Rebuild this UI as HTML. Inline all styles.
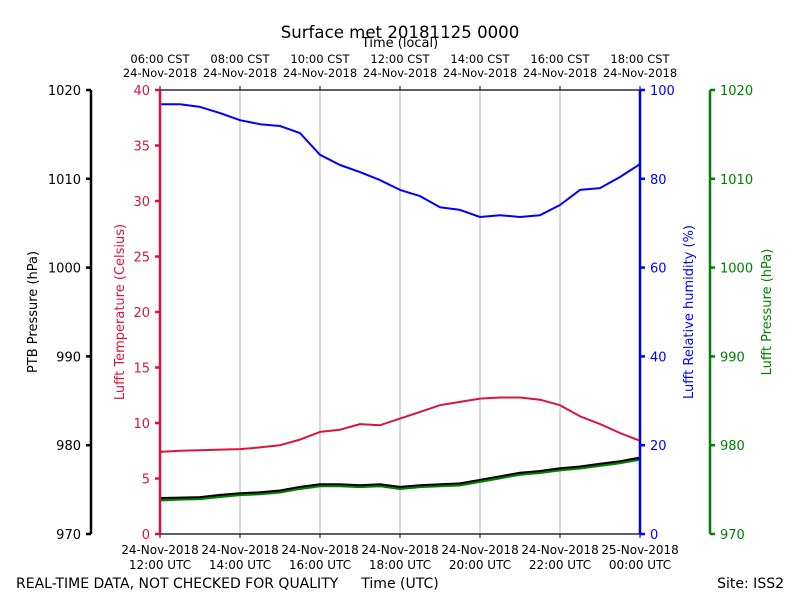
<!DOCTYPE html>
<html><head><meta charset="utf-8"><style>
html,body{margin:0;padding:0;background:#fff;}
svg{display:block;font-family:"DejaVu Sans","Liberation Sans",sans-serif;}
</style></head><body>
<svg id="chart" width="800" height="600" viewBox="0 0 800 600" xmlns="http://www.w3.org/2000/svg">
<rect width="800" height="600" fill="#fff"/>
<text x="400" y="38" font-size="16.6" text-anchor="middle">Surface met 20181125 0000</text>
<text x="400" y="47" font-size="13" text-anchor="middle">Time (local)</text>
<text x="400" y="588" font-size="14" text-anchor="middle">Time (UTC)</text>
<text x="16" y="588" font-size="14">REAL-TIME DATA, NOT CHECKED FOR QUALITY</text>
<text x="784" y="588" font-size="14" text-anchor="end">Site: ISS2</text>
<g id="grid"></g>
<g id="series"></g>
<g id="axes"></g>
</svg>
<script>
const hoursUTC = [0,0.5,1,1.5,2,2.5,3,3.5,4,4.5,5,5.5,6,6.5,7,7.5,8,8.5,9,9.5,10,10.5,11,11.5,12];
const tempC = [7.4,7.5,7.55,7.6,7.65,7.8,8.0,8.5,9.2,9.4,9.9,9.8,10.4,11.0,11.6,11.9,12.2,12.3,12.3,12.1,11.6,10.6,9.9,9.1,8.4];
const rhPct = [96.8,96.8,96.2,94.8,93.2,92.3,91.9,90.3,85.4,83.1,81.5,79.7,77.5,76.1,73.6,73.0,71.4,71.8,71.4,71.8,74.1,77.5,77.9,80.4,83.3];
const ptbHpa = [974.05,974.1,974.15,974.4,974.6,974.7,974.9,975.3,975.6,975.6,975.5,975.6,975.3,975.5,975.6,975.7,976.1,976.5,976.9,977.1,977.4,977.6,977.9,978.2,978.6];
const lufftHpa = [973.8,973.9,973.95,974.2,974.4,974.5,974.7,975.1,975.4,975.4,975.3,975.4,975.1,975.3,975.4,975.5,975.9,976.3,976.7,976.9,977.2,977.4,977.7,978.0,978.4];
const utcTickHours = [0,2,4,6,8,10,12];
const utcTickLabels = [["24-Nov-2018","12:00 UTC"],["24-Nov-2018","14:00 UTC"],["24-Nov-2018","16:00 UTC"],["24-Nov-2018","18:00 UTC"],["24-Nov-2018","20:00 UTC"],["24-Nov-2018","22:00 UTC"],["25-Nov-2018","00:00 UTC"]];
const localTickLabels = [["06:00 CST","24-Nov-2018"],["08:00 CST","24-Nov-2018"],["10:00 CST","24-Nov-2018"],["12:00 CST","24-Nov-2018"],["14:00 CST","24-Nov-2018"],["16:00 CST","24-Nov-2018"],["18:00 CST","24-Nov-2018"]];
const tempTicks = [0,5,10,15,20,25,30,35,40];
const rhTicks = [0,20,40,60,80,100];
const presTicks = [970,980,990,1000,1010,1020];

const L=160,R=640,T=90,B=534;
const NS="http://www.w3.org/2000/svg";
const xS=h=>L+(h-0)/12*(R-L);
const yT=v=>B-v/40*(B-T);
const yRH=v=>B-v/100*(B-T);
const yP=v=>B-(v-970)/50*(B-T);
function mk(tag,at,parent){const e=document.createElementNS(NS,tag);for(const k in at)e.setAttribute(k,at[k]);document.getElementById(parent).appendChild(e);return e;}

utcTickHours.forEach((h,i)=>{
  if(i>0&&i<utcTickHours.length-1){const g=mk('line',{x1:xS(h),x2:xS(h),y1:T,y2:B,stroke:'#b0b0b0','stroke-width':1},'grid');
  
  }
});

function series(vals,sc,color,name,w){
  const p=mk('polyline',{points:vals.map((v,i)=>xS(hoursUTC[i]).toFixed(1)+','+sc(v).toFixed(1)).join(' '),fill:'none',stroke:color,'stroke-width':w,'stroke-linejoin':'round'},'series');
  
  
}
series(rhPct,yRH,'#0000ff','rh-line',2);
series(tempC,yT,'#dc143c','temperature-line',2);
series(lufftHpa,yP,'#008000','lufft-pressure-line',2.5);
series(ptbHpa,yP,'#000000','ptb-pressure-line',2);

const tb=mk('line',{x1:L,x2:R,y1:T,y2:T,stroke:'#000','stroke-width':1.2},'axes');


const bb=mk('line',{x1:L,x2:R,y1:B,y2:B,stroke:'#000','stroke-width':1.2},'axes');



utcTickHours.forEach((h,i)=>{
  const x=xS(h);
  mk('line',{x1:x,x2:x,y1:B,y2:B+4,stroke:'#000'},'axes');
  mk('line',{x1:x,x2:x,y1:T,y2:T-4,stroke:'#000'},'axes');
  const t1=mk('text',{x:x,y:554,'font-size':12,'text-anchor':'middle'},'axes');t1.textContent=utcTickLabels[i][0];
  
  
  const t2=mk('text',{x:x,y:569,'font-size':12,'text-anchor':'middle'},'axes');t2.textContent=utcTickLabels[i][1];
  
  
  const t3=mk('text',{x:x,y:63,'font-size':11.5,'text-anchor':'middle'},'axes');t3.textContent=localTickLabels[i][0];
  
  
  const t4=mk('text',{x:x,y:77,'font-size':11.5,'text-anchor':'middle'},'axes');t4.textContent=localTickLabels[i][1];
  
  
});

function yAxis(x,ticks,sc,color,dir,name,title,tx){
  const a=mk('line',{x1:x,x2:x,y1:T,y2:B,stroke:color,'stroke-width':2.5},'axes');
  
  
  ticks.forEach(v=>{
    const y=sc(v);
    mk('line',{x1:x,x2:x+dir*5,y1:y,y2:y,stroke:color,'stroke-width':2.5},'axes');
    const t=mk('text',{x:x+dir*10,y:y+5,'font-size':13,fill:color,'text-anchor':dir<0?'end':'start'},'axes');t.textContent=v;
    
    
  });
  const tt=mk('text',{x:tx,y:312,'font-size':13,fill:color,'text-anchor':'middle',transform:`rotate(-90 ${tx} 312)`},'axes');tt.textContent=title;
  
  
}
yAxis(91,presTicks,yP,'#000',-1,'ptb-pressure-axis','PTB Pressure (hPa)',37);
yAxis(160,tempTicks,yT,'#dc143c',-1,'temperature-axis','Lufft Temperature (Celsius)',124);
yAxis(640,rhTicks,yRH,'#0000ff',1,'rh-axis','Lufft Relative humidity (%)',693);
yAxis(710,presTicks,yP,'#008000',1,'lufft-pressure-axis','Lufft Pressure (hPa)',771);
</script>
</body></html>
